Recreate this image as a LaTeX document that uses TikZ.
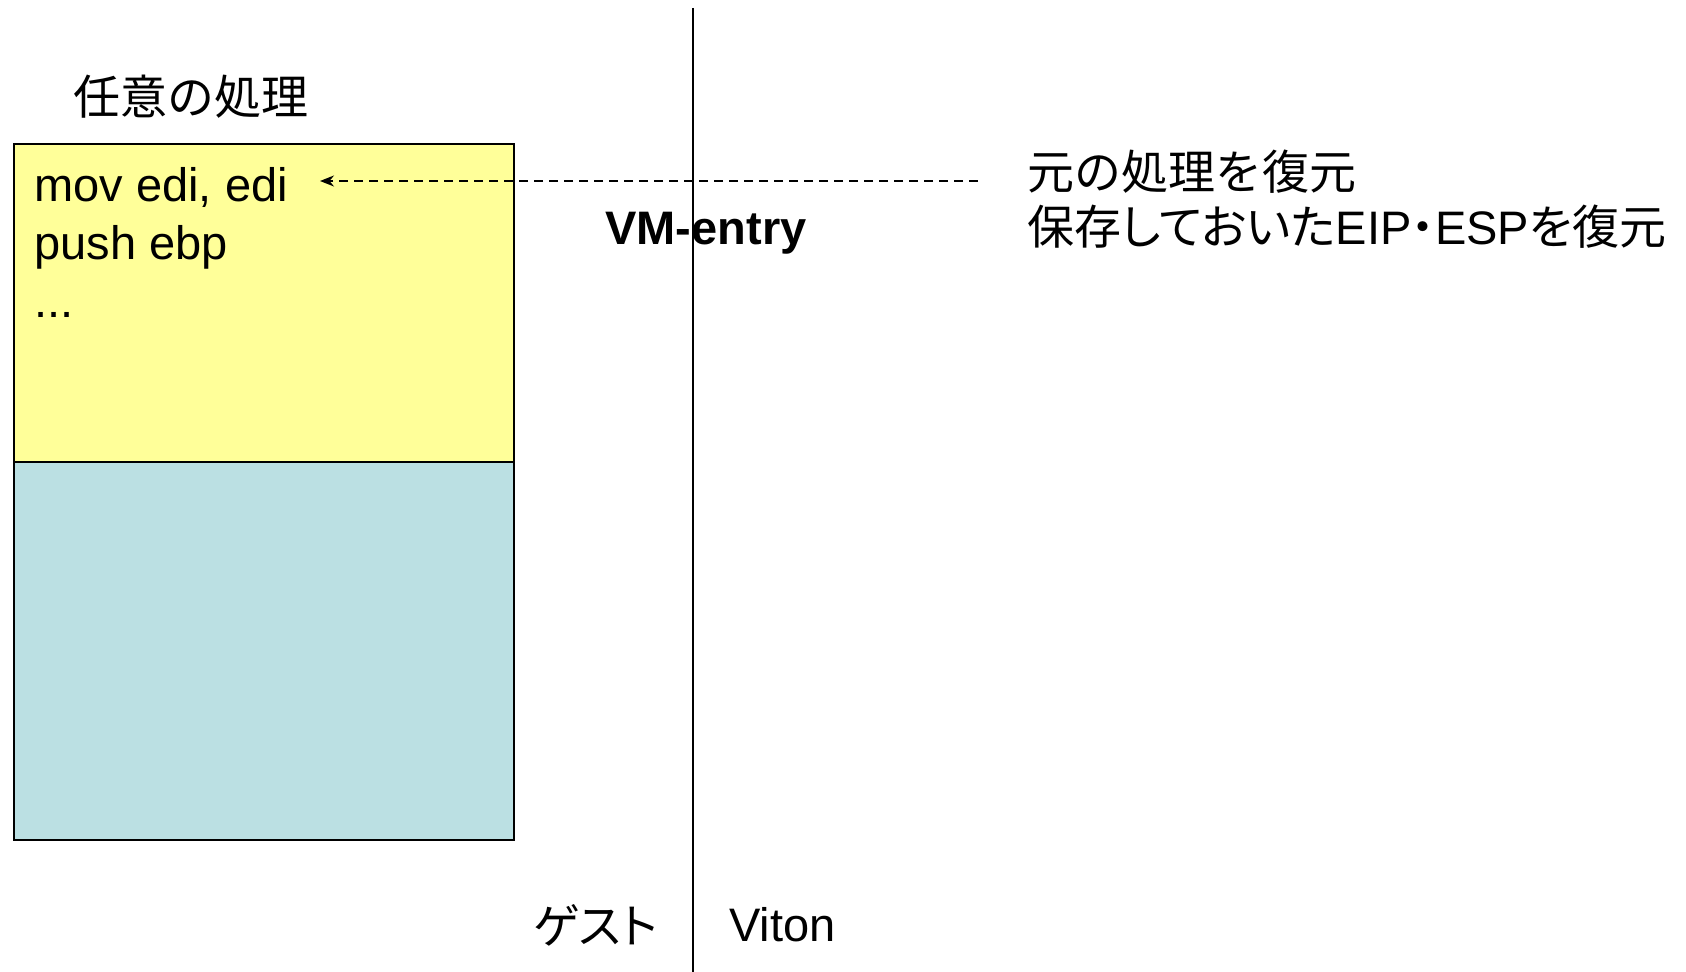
\documentclass[tikz,border=0pt]{standalone}
\usepackage{fontspec}
\setmainfont{Liberation Sans}
\newfontfamily\jp{Noto Sans CJK JP}
\newfontfamily\jpp[RawFeature=+palt]{Noto Sans CJK JP}
\usetikzlibrary{arrows.meta}
\definecolor{codeyellow}{HTML}{FFFF99}
\definecolor{stackblue}{HTML}{BBE0E3}
\tikzset{
  txt/.style={inner sep=0pt, font=\fontsize{23.5pt}{28pt}\selectfont},
  panel/.style={draw=black, line width=1pt, inner sep=0pt, anchor=north west, minimum width=250pt},
  divider/.style={draw=black, line width=1pt},
  jumparrow/.style={draw=black, line width=0.8pt, dash pattern=on 4.5pt off 3pt, -{Stealth[length=7pt,width=5.5pt]}}
}
\begin{document}
\begin{tikzpicture}[x=0.5pt,y=-0.5pt]
\useasboundingbox (0,0) rectangle (1686,972);
% panels
\node[panel, fill=codeyellow, minimum height=159pt] (ybox) at (13,143) {};
\node[panel, fill=stackblue, minimum height=189pt] (bbox) at (13,461) {};
% divider line
\coordinate (vtop) at (693,8);
\coordinate (vbot) at (693,972);
\draw[divider] (vtop) -- (vbot);
% title
\node[txt, anchor=west] (title) at (73,97) {\jp 任意の処理};
% code lines
\node[txt, anchor=base west] (l1) at (34,202) {mov edi, edi};
\node[txt, anchor=base west] (l2) at (34,260) {push ebp};
\node[txt, anchor=base west] (l3) at (34,318) {...};
% arrow
\coordinate (from) at (978,181);
\coordinate (to) at (320,181);
\draw[jumparrow] (from) -- (to);
% VM-entry
\node[txt, anchor=base west, font=\fontsize{23.5pt}{28pt}\selectfont\bfseries] (vm) at (605,245) {VM-entry};
% right notes
\node[txt, anchor=west] (n1) at (1027,172) {\jp 元の処理を復元};
\node[txt, anchor=west] (n2) at (1027,227) {{\jpp 保存しておいた}EIP{\jpp ・}ESP{\jpp を復元}};
% bottom labels
\node[txt, anchor=west] (guest) at (533,925) {\jpp ゲスト};
\node[txt, anchor=west] (viton) at (729,925) {Viton};
\end{tikzpicture}
\end{document}
